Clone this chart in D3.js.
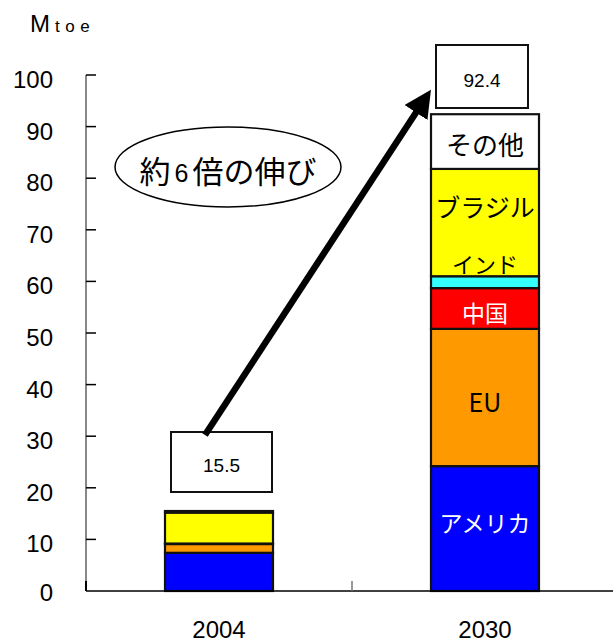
<!DOCTYPE html>
<html>
<head>
<meta charset="utf-8">
<script src="https://cdn.jsdelivr.net/npm/d3@7/dist/d3.min.js"></script>
<style>
  html, body { margin: 0; padding: 0; background: #fff; }
  svg { display: block; }
</style>
</head>
<body>
<svg id="chart" width="613" height="643"></svg>
<script>
// Years on the x axis
const years = ["2004", "2030"];
// Stack order, bottom to top
const regions = ["アメリカ", "EU", "中国", "インド", "ブラジル", "その他"];
const regionColors = ["#0000FF", "#FF9900", "#FF0000", "#33FFFF", "#FFFF00", "#FFFFFF"];
// Biofuel demand by region (Mtoe)
const values2004 = [7.4, 1.7, 0.1, 0.0, 6.0, 0.3];
const values2030 = [24.2, 26.6, 7.9, 2.3, 20.8, 10.6];
// Totals shown in the boxes
const totals = [15.5, 92.4];
const yTicks = [0, 10, 20, 30, 40, 50, 60, 70, 80, 90, 100];
const growthNote = ["約", "6", "倍の伸び"];

const svg = d3.select("#chart");
const x0 = 86, x1 = 618, yTop = 75, yBase = 591;

const x = d3.scaleBand().domain(years).range([x0, x1]).paddingInner(0.594).paddingOuter(0.297);
const y = d3.scaleLinear().domain([0, 100]).range([yBase, yTop]);

const numFont = "'Liberation Sans', Arial, sans-serif";
const jpFont = "'Noto Sans CJK JP', 'Noto Sans', sans-serif";

// Unit label
const unit = svg.append("text").attr("x", 30).attr("y", 32)
  .attr("font-family", numFont).attr("font-size", 24).attr("fill", "#000");
unit.append("tspan").text("M");
unit.append("tspan").attr("font-size", 17).attr("letter-spacing", 5.5).attr("dx", 5).text("toe");

// Y axis: inward ticks, labels on the left
const yAxis = svg.append("g");
yAxis.append("line").attr("x1", x0).attr("x2", x0).attr("y1", y(0)).attr("y2", y(100))
  .attr("stroke", "#888").attr("stroke-width", 2);
yAxis.selectAll("line.tick").data(yTicks.filter(d => d > 0)).join("line").attr("class", "tick")
  .attr("x1", x0).attr("x2", x0 + 10).attr("y1", d => y(d)).attr("y2", d => y(d))
  .attr("stroke", "#000").attr("stroke-width", 1.5);
yAxis.selectAll("text").data(yTicks).join("text")
  .attr("x", 53).attr("y", d => y(d) + (d === 0 ? 10 : 13))
  .attr("text-anchor", "end")
  .attr("font-family", numFont).attr("font-size", 24).attr("fill", "#000")
  .text(d => d);

// Stacked bars
const rows = years.map((yr, i) => {
  const vals = i === 0 ? values2004 : values2030;
  const row = { year: yr };
  regions.forEach((r, j) => row[r] = vals[j]);
  return row;
});
const series = d3.stack().keys(regions)(rows);

const barG = svg.append("g");
series.forEach((s, j) => {
  barG.selectAll(null).data(s).join("rect")
    .attr("x", d => x(d.data.year))
    .attr("width", x.bandwidth())
    .attr("y", d => y(d[1]))
    .attr("height", d => Math.max(0, y(d[0]) - y(d[1])))
    .attr("fill", regionColors[j])
    .attr("stroke", "#111").attr("stroke-width", 2.2);
});

// X axis baseline and divider tick
const midX = (x("2004") + x.bandwidth() + x("2030")) / 2;
svg.append("line").attr("x1", x0).attr("x2", 613).attr("y1", yBase).attr("y2", yBase)
  .attr("stroke", "#000").attr("stroke-width", 1.5);
svg.append("line").attr("x1", x0).attr("x2", x0).attr("y1", yBase).attr("y2", yBase - 10)
  .attr("stroke", "#000").attr("stroke-width", 2);
svg.append("line").attr("x1", midX).attr("x2", midX)
  .attr("y1", yBase).attr("y2", yBase - 10).attr("stroke", "#777").attr("stroke-width", 1.5);

svg.selectAll("text.year").data(years).join("text").attr("class", "year")
  .attr("x", d => x(d) + x.bandwidth() / 2).attr("y", 638)
  .attr("text-anchor", "middle").attr("font-family", numFont).attr("font-size", 24)
  .attr("fill", "#000").text(d => d);

// Segment labels on the 2030 bar (size, colour, offset from segment middle)
const labelStyle = [
  { size: 23, fill: "#fff", dy: -5 },
  { size: 25, fill: "#000", dy: 5 },
  { size: 23, fill: "#fff", dy: 5 },
  { size: 22, fill: "#000", dy: -17 },
  { size: 25, fill: "#000", dy: -15 },
  { size: 26, fill: "#000", dy: 4 }
];
series.forEach((s, j) => {
  const d = s[1];
  const cx = x("2030") + x.bandwidth() / 2;
  const cy = (y(d[0]) + y(d[1])) / 2 + labelStyle[j].dy;
  svg.append("text").attr("x", cx).attr("y", cy).attr("dy", "0.36em")
    .attr("text-anchor", "middle").attr("font-family", jpFont)
    .attr("font-size", labelStyle[j].size).attr("fill", labelStyle[j].fill)
    .text(regions[j]);
});

// Total boxes
const boxes = [
  { left: 171, width: 101, top: 432, height: 60, base: 472 },
  { left: 436, width: 92, top: 45, height: 63, base: 87 }
];
boxes.forEach((b, i) => {
  svg.append("rect").attr("x", b.left).attr("y", b.top).attr("width", b.width).attr("height", b.height)
    .attr("fill", "#fff").attr("stroke", "#111").attr("stroke-width", 2);
  svg.append("text").attr("x", b.left + b.width / 2).attr("y", b.base)
    .attr("text-anchor", "middle")
    .attr("font-family", numFont).attr("font-size", 19).attr("fill", "#000")
    .text(totals[i].toFixed(1));
});

// Growth arrow
const defs = svg.append("defs");
defs.append("marker").attr("id", "head").attr("viewBox", "0 0 10 10")
  .attr("refX", 2).attr("refY", 5).attr("markerWidth", 4.2).attr("markerHeight", 4.2)
  .attr("orient", "auto").attr("markerUnits", "strokeWidth")
  .append("path").attr("d", "M0,0 L10,5 L0,10 Z").attr("fill", "#000");
svg.append("line").attr("x1", 205).attr("y1", 435).attr("x2", 419).attr("y2", 108)
  .attr("stroke", "#000").attr("stroke-width", 6.5).attr("marker-end", "url(#head)");

// Callout ellipse
svg.append("ellipse").attr("cx", 228).attr("cy", 167).attr("rx", 113).attr("ry", 40)
  .attr("fill", "#fff").attr("stroke", "#000").attr("stroke-width", 1.5);
const note = svg.append("text").attr("x", 228).attr("y", 172).attr("dy", "0.36em")
  .attr("text-anchor", "middle").attr("font-family", jpFont).attr("font-size", 31).attr("fill", "#000");
note.append("tspan").text(growthNote[0]);
note.append("tspan").attr("font-family", numFont).attr("font-size", 25).attr("dx", 4).attr("dy", -1).text(growthNote[1]);
note.append("tspan").attr("dx", 4).attr("dy", 1).text(growthNote[2]);
</script>
</body>
</html>
